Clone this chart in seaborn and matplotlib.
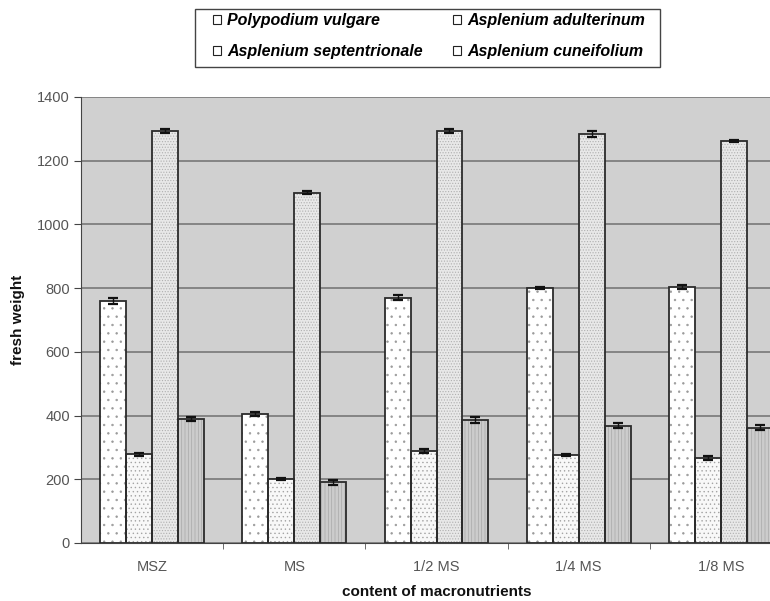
import numpy as np
import pandas as pd
import seaborn as sns
import matplotlib.pyplot as plt
from matplotlib.patches import Patch, Rectangle

# values
categories = ['MSZ', 'MS', '1/2 MS', '1/4 MS', '1/8 MS']
species = ['Polypodium vulgare', 'Asplenium adulterinum',
           'Asplenium septentrionale', 'Asplenium cuneifolium']

polypodium = [760, 405, 770, 800, 803]
adulterinum = [278, 200, 290, 276, 267]
septentrionale = [1294, 1100, 1294, 1283, 1262]
cuneifolium = [389, 190, 386, 368, 362]

polypodium_err = [10, 7, 8, 4, 6]
adulterinum_err = [6, 3, 6, 3, 6]
septentrionale_err = [7, 4, 7, 9, 3]
cuneifolium_err = [5, 9, 9, 8, 7]

values = [polypodium, adulterinum, septentrionale, cuneifolium]
errors = [polypodium_err, adulterinum_err, septentrionale_err, cuneifolium_err]

df = pd.DataFrame({
    'category': categories * 4,
    'species': np.repeat(species, len(categories)),
    'weight': np.concatenate(values),
})

plt.rcParams['font.family'] = ['Liberation Sans', 'DejaVu Sans']
plt.rcParams['hatch.linewidth'] = 0.5

fig = plt.figure(figsize=(7.7, 6.01), dpi=100)
ax = fig.add_axes([81 / 770, 58 / 601, 711 / 770, 446 / 601])
ax.set_facecolor('#d0d0d0')

sns.barplot(data=df, x='category', y='weight', hue='species',
            hue_order=species, order=categories, width=0.73,
            ax=ax, legend=False, zorder=3)

fills = ['#ffffff', '#f8f8f8', '#e8e8e8', '#cccccc']
hatches = ['..', '....', '......', '|||||']
hatch_cols = ['#9a9a9a', '#a4a4a4', '#b0b0b0', '#a8a8a8']
for cont, fc, h, hc, err in zip(ax.containers, fills, hatches, hatch_cols, errors):
    xs = []
    ys = []
    for bar in cont:
        bar.set_facecolor(fc)
        bar.set_edgecolor(hc)
        bar.set_hatch(h)
        bar.set_linewidth(0)
        ax.bar(bar.get_x() + bar.get_width() / 2, bar.get_height(),
               width=bar.get_width(), fill=False, edgecolor='#2b2b2b',
               linewidth=1.3, zorder=4)
        xs.append(bar.get_x() + bar.get_width() / 2)
        ys.append(bar.get_height())
    ax.errorbar(xs, ys, yerr=err, fmt='none', ecolor='#111111',
                elinewidth=1.0, capsize=3.5, capthick=1.6, zorder=5)

ax.set_ylim(0, 1400)
ax.set_xlim(-0.5, 4.5)
ax.set_yticks(range(0, 1401, 200))
ax.yaxis.grid(True, color='#7f7f7f', linewidth=1.3, zorder=0)
ax.set_axisbelow(True)

ax.set_xticks([0.5, 1.5, 2.5, 3.5], minor=True)
ax.tick_params(axis='x', which='major', length=0, pad=12,
               labelsize=10.5, labelcolor='#555555')
ax.tick_params(axis='x', which='minor', length=4, color='#555555')
ax.tick_params(axis='y', length=5, color='#444444', labelsize=10.5,
               labelcolor='#555555', pad=3)

for s in ['top', 'right']:
    ax.spines[s].set_visible(False)
ax.spines['left'].set_color('#444444')
ax.spines['bottom'].set_color('#444444')

ax.set_xlabel('content of macronutrients', fontsize=11, fontweight='bold',
              color='#111111', labelpad=8)
ax.set_ylabel('fresh weight', fontsize=11, fontweight='bold',
              color='#111111', labelpad=9)

# legend: Excel-like small empty squares, row-major order, own frame
handles = [Patch(facecolor='white', edgecolor='#222222', linewidth=0.8)
           for _ in species]
order = [0, 2, 1, 3]
fig.legend([handles[i] for i in order], [species[i] for i in order],
           ncol=2, loc='upper left',
           bbox_to_anchor=(213 / 770, 1 - 13 / 601),
           frameon=False, borderpad=0, borderaxespad=0,
           handlelength=0.5, handleheight=0.5, handletextpad=0.4,
           columnspacing=1.85, labelspacing=1.0,
           prop={'weight': 'bold', 'style': 'italic', 'size': 11.5})
fig.patches.append(Rectangle((195 / 770, 1 - 67 / 601), 465 / 770, 58 / 601,
                             transform=fig.transFigure, fill=False,
                             edgecolor='#444444', linewidth=1.0))

fig.savefig('out.png', dpi=100)
